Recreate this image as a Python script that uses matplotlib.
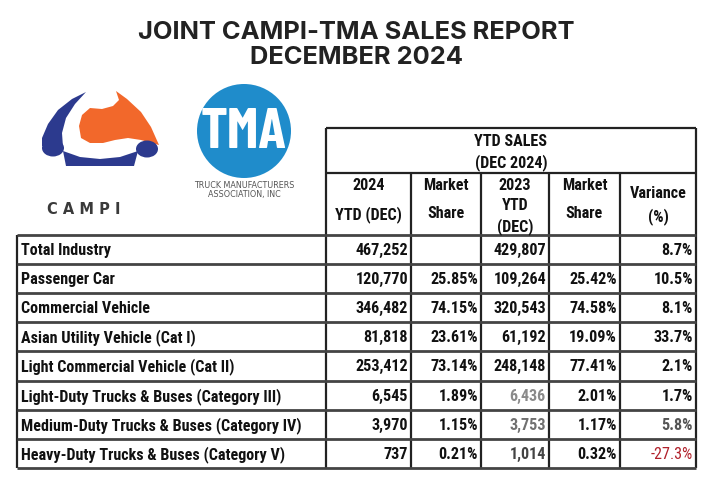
import matplotlib
matplotlib.use("Agg")
import matplotlib.pyplot as plt
from matplotlib import font_manager
from matplotlib.patches import Polygon, Circle, Ellipse

# table data
categories = ["Total Industry", "Passenger Car", "Commercial Vehicle",
              "Asian Utility Vehicle (Cat I)", "Light Commercial Vehicle (Cat II)",
              "Light-Duty Trucks & Buses (Category III)",
              "Medium-Duty Trucks & Buses (Category IV)",
              "Heavy-Duty Trucks & Buses (Category V)"]
ytd_2024 = [467252, 120770, 346482, 81818, 253412, 6545, 3970, 737]
share_2024 = [None, 25.85, 74.15, 23.61, 73.14, 1.89, 1.15, 0.21]
ytd_2023 = [429807, 109264, 320543, 61192, 248148, 6436, 3753, 1014]
share_2023 = [None, 25.42, 74.58, 19.09, 77.41, 2.01, 1.17, 0.32]
variance = [8.7, 10.5, 8.1, 33.7, 2.1, 1.7, 5.8, -27.3]
col_headers = [["2024", "YTD (DEC)"], ["Market", "Share"], ["2023", "YTD", "(DEC)"],
               ["Market", "Share"], ["Variance", "(%)"]]


def pick(candidates, weight, fallback):
    # first family that has a static (non-variable) file of the wanted weight
    for name in candidates:
        for f in font_manager.fontManager.ttflist:
            if f.name == name and f.style == "normal" and "[" not in f.fname \
                    and abs(int(f.weight) - weight) <= 50:
                return name
    return fallback


NARROW = pick(["Liberation Sans Narrow", "Arial Narrow", "Roboto Condensed",
               "PT Sans Narrow", "Fira Sans Condensed", "IBM Plex Sans Condensed",
               "Asap Condensed", "Barlow Semi Condensed"], 700, "DejaVu Sans")
HEAVY = pick(["Oswald", "Barlow Condensed", "Roboto Condensed", "Asap Condensed"], 700, NARROW)
TITLE = pick(["Montserrat", "Gotham", "Raleway", "Inter"], 700, "DejaVu Sans")

fig = plt.figure(figsize=(7.2, 4.91), dpi=100)
fig.patch.set_facecolor("white")
ax = fig.add_axes([0, 0, 1, 1])
ax.set_xlim(0, 720)
ax.set_ylim(491, 0)
ax.axis("off")
renderer = fig.canvas.get_renderer()


def fit(t, width, base):
    w = t.get_window_extent(renderer).width
    t.set_fontsize(base * width / w)


# title
t1 = ax.text(356, 32, "JOINT CAMPI-TMA SALES REPORT", ha="center", va="center",
             fontsize=16.5, fontweight="bold", family=TITLE, color="#222222")
fit(t1, 438, 16.5)
ax.text(356, 57, "DECEMBER 2024", ha="center", va="center",
        fontsize=t1.get_fontsize(), fontweight="bold", family=TITLE, color="#222222")

# CAMPI logo (rough shapes)
blue = "#2c3a8e"
orange = "#f2682b"
ax.add_patch(Polygon([(86, 92), (72, 99), (58, 110), (48, 124), (42, 138), (42, 146),
                      (63, 147), (62, 133), (66, 118), (75, 104)],
                     closed=True, color=blue, lw=0))
ax.add_patch(Polygon([(116, 91), (127, 99), (141, 112), (151, 127), (159, 145),
                      (141, 140), (128, 138), (115, 140), (103, 143), (90, 143),
                      (81, 138), (79, 126), (82, 115), (90, 108), (102, 109),
                      (113, 106), (119, 100)],
                     closed=True, color=orange, lw=0))
ax.add_patch(Ellipse((53, 148), 22, 17, color=blue, lw=0))
ax.add_patch(Ellipse((147, 149), 22, 17, color=blue, lw=0))
ax.add_patch(Polygon([(63, 151), (80, 157), (100, 159), (120, 157), (138, 151),
                      (134, 166), (66, 166)], closed=True, color=blue, lw=0))
ax.text(84, 210, "C A M P I", ha="center", va="center", fontsize=10.5,
        fontweight="bold", family="DejaVu Sans", color="#3a3a3a")

# TMA logo
ax.add_patch(Circle((244, 131), 47, color="#1f8ccb", lw=0))
tma = ax.text(244, 133, "TMA", ha="center", va="center", fontsize=30, fontweight="bold",
              family=HEAVY, color="white")
fit(tma, 86, 30)
ax.text(244, 186, "TRUCK MANUFACTURERS", ha="center", va="center", fontsize=5.8,
        family="DejaVu Sans", color="#555555")
ax.text(244, 195, "ASSOCIATION, INC", ha="center", va="center", fontsize=5.8,
        family="DejaVu Sans", color="#555555")

# table geometry
col_edges = [326, 411, 481, 549, 620, 696]
left = 17
head_top = 128
head_mid = 173
body_top = 235
row_h = 29.1
n = len(categories)
body_bottom = body_top + row_h * n

line_kw = dict(color="#222222", lw=1.6, solid_capstyle="butt")
ax.plot([col_edges[0], col_edges[-1]], [head_top, head_top], **line_kw)
ax.plot([col_edges[0], col_edges[-1]], [head_mid, head_mid], **line_kw)
ax.plot([col_edges[0], col_edges[0]], [head_top, body_bottom], **line_kw)
ax.plot([col_edges[-1], col_edges[-1]], [head_top, body_bottom], **line_kw)
for xe in col_edges[1:-1]:
    ax.plot([xe, xe], [head_mid, body_bottom], **line_kw)
ax.plot([left, left], [body_top, body_bottom], **line_kw)
for i in range(n + 1):
    y = body_top + row_h * i
    ax.plot([left, col_edges[-1]], [y, y], color="#444444", lw=2.0,
            solid_capstyle="butt")

# size the table font so the longest label fills its width like the reference
probe = ax.text(0, 0, categories[5], fontsize=11, fontweight="bold", family=NARROW)
fit(probe, 260, 11)
fs = min(max(probe.get_fontsize(), 9.5), 12.5)
probe.remove()

txt_kw = dict(fontsize=fs, fontweight="bold", family=NARROW, color="#111111")
mid = (col_edges[0] + col_edges[-1]) / 2
ax.text(mid, 141, "YTD SALES", ha="center", va="center", **txt_kw)
ax.text(mid, 163, "(DEC 2024)", ha="center", va="center", **txt_kw)
header_lines_y = [[185, 215], [185, 214], [185, 206, 227], [185, 214], [193, 217]]
for j, lines in enumerate(col_headers):
    cx = (col_edges[j] + col_edges[j + 1]) / 2
    for s, yy in zip(lines, header_lines_y[j]):
        ax.text(cx, yy, s, ha="center", va="center", **txt_kw)

grey_cells = {(5, 2): "#8a8a8a", (6, 2): "#707070", (7, 2): "#444444",
              (6, 4): "#555555"}
for i in range(n):
    yc = body_top + row_h * (i + 0.5) + 1
    ax.text(left + 4, yc, categories[i], ha="left", va="center", **txt_kw)
    cells = [f"{ytd_2024[i]:,}",
             "" if share_2024[i] is None else f"{share_2024[i]:.2f}%",
             f"{ytd_2023[i]:,}",
             "" if share_2023[i] is None else f"{share_2023[i]:.2f}%",
             f"{variance[i]:.1f}%"]
    for j, c in enumerate(cells):
        color = grey_cells.get((i, j), "#111111")
        weight = "bold"
        if variance[i] < 0 and j == 4:
            color = "#b0202a"
            weight = "normal"
        ax.text(col_edges[j + 1] - 3, yc, c, ha="right", va="center",
                fontsize=fs, fontweight=weight, family=NARROW, color=color)

fig.savefig("out.png", dpi=100, facecolor="white")
